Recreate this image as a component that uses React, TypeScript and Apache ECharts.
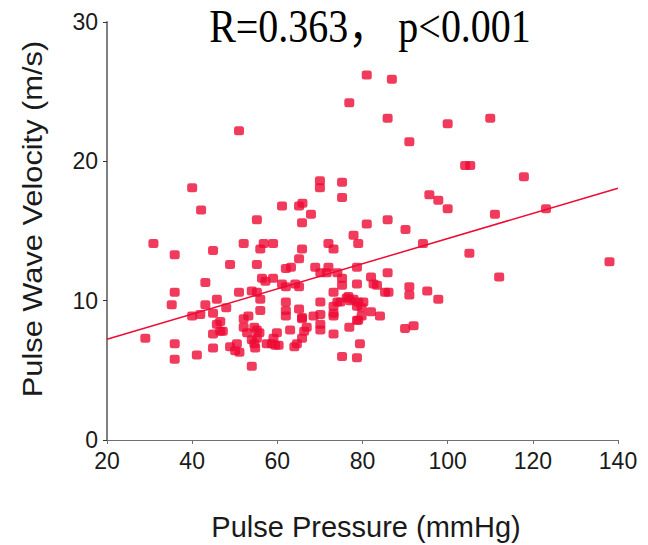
import React, { useEffect, useRef } from "react";
import * as echarts from "echarts";

const xTicks = [20, 40, 60, 80, 100, 120, 140];
const yTicks = [0, 10, 20, 30];

// Pulse Pressure (mmHg)
const pulsePressure = [
  81.0, 86.9, 76.9, 51.0, 85.9, 100.0, 110.0, 91.0, 104.1, 105.3,
  117.9, 95.7, 97.8, 100.0, 123.1, 111.1, 81.0, 85.9, 90.1, 77.9,
  79.0, 94.2, 105.1, 138.0, 40.0, 42.1, 70.0, 70.0, 75.2, 75.2,
  61.1, 65.1, 65.9, 67.9, 65.8, 55.2, 30.9, 35.9, 44.9, 52.1,
  56.0, 56.8, 59.0, 65.8, 72.0, 73.2, 65.1, 48.9, 55.2, 62.0,
  63.2, 68.9, 72.0, 70.1, 71.6, 74.1, 75.2, 75.2, 78.7, 78.7,
  43.1, 56.4, 57.2, 59.0, 61.1, 62.0, 64.2, 65.1, 35.9, 51.0,
  54.0, 55.2, 73.2, 35.2, 43.1, 45.8, 48.0, 56.0, 56.0, 62.0,
  62.0, 62.0, 65.1, 65.8, 70.1, 73.2, 74.1, 76.3, 77.1, 73.2,
  73.2, 78.7, 78.7, 40.0, 41.9, 44.9, 46.6, 45.8, 47.2, 46.6,
  44.9, 52.1, 53.2, 52.1, 52.9, 54.6, 55.2, 55.8, 54.0, 54.6,
  55.2, 59.9, 59.1, 58.7, 59.5, 60.3, 57.5, 63.0, 65.8, 66.9,
  66.3, 65.8, 64.6, 64.0, 68.5, 70.1, 70.1, 70.1, 73.2, 76.9,
  29.0, 35.9, 35.9, 41.1, 44.9, 48.9, 50.5, 51.1, 50.1, 54.8,
  54.0, 75.2, 78.7, 79.4, 112.1, 85.9, 82.0, 82.6, 83.4, 85.3,
  86.1, 91.0, 91.0, 95.2, 97.8, 76.7, 77.9, 79.0, 80.2, 74.8,
  79.8, 82.0, 84.1, 79.8, 79.0, 90.0, 92.0
];

// Pulse Wave Velocity (m/s)
const pulseWaveVelocity = [
  26.2, 25.9, 24.2, 22.2, 23.1, 22.7, 23.1, 21.4, 19.7, 19.7,
  18.9, 17.6, 17.2, 16.6, 16.6, 16.2, 15.5, 15.8, 15.1, 14.7,
  14.1, 14.1, 13.4, 12.8, 18.1, 16.5, 18.6, 18.1, 18.5, 17.4,
  16.8, 16.8, 17.0, 16.2, 15.6, 15.8, 14.1, 13.3, 13.6, 14.1,
  13.7, 14.1, 14.1, 13.7, 14.1, 13.7, 13.0, 12.6, 12.6, 12.3,
  12.4, 12.4, 12.4, 12.0, 12.0, 12.0, 11.6, 11.1, 12.4, 11.2,
  11.3, 11.6, 11.4, 11.6, 11.2, 11.0, 11.2, 11.0, 10.6, 10.6,
  10.7, 10.6, 10.6, 9.7, 9.7, 10.1, 9.5, 10.1, 9.3, 9.9,
  9.3, 8.9, 9.4, 8.8, 9.9, 9.6, 9.9, 10.2, 10.0, 9.1,
  8.9, 9.6, 8.6, 8.9, 9.0, 9.1, 8.5, 8.3, 7.8, 7.8,
  7.6, 8.7, 8.9, 8.1, 7.7, 8.1, 7.9, 7.7, 7.2, 6.9,
  7.3, 7.7, 7.3, 6.9, 6.8, 6.8, 6.9, 7.9, 8.7, 8.1,
  7.8, 7.3, 6.9, 6.7, 8.9, 9.0, 8.3, 7.9, 7.6, 8.1,
  7.3, 6.9, 5.8, 6.1, 6.6, 6.7, 6.9, 6.3, 6.4, 6.6,
  5.3, 6.0, 5.9, 6.9, 11.7, 12.0, 11.7, 11.2, 11.1, 10.6,
  10.6, 11.0, 10.4, 10.7, 10.1, 10.3, 10.1, 9.9, 9.9, 9.9,
  9.5, 9.2, 8.9, 8.9, 8.6, 8.0, 8.2
];

// Regression line end points
const fitX = [20, 140];
const fitY = [7.23, 18.07];

const titleText = "R=0.363， p<0.001";
const xName = "Pulse Pressure (mmHg)";
const yName = "Pulse Wave Velocity (m/s)";

const RED = "#ee0a34";

export default function App() {
  const ref = useRef<HTMLDivElement>(null);
  useEffect(() => {
    if (!ref.current) return;
    const chart = echarts.init(ref.current, null, { renderer: "svg" });
    const points = pulsePressure.map((x, i) => [x, pulseWaveVelocity[i]]);
    const fit = fitX.map((x, i) => [x, fitY[i]]);
    const labelStyle = {
      margin: 9,
      fontSize: 23,
      color: "#1a1a1a",
      fontFamily: "Liberation Sans, Arial, sans-serif",
    };
    chart.setOption({
      animation: false,
      backgroundColor: "#ffffff",
      grid: { left: 107, right: 30, top: 22, bottom: 105 },
      xAxis: {
        type: "value",
        min: xTicks[0],
        max: xTicks[xTicks.length - 1],
        interval: 20,
        axisLine: { lineStyle: { color: "#707070", width: 1.2 } },
        axisTick: { show: true, length: 4, lineStyle: { color: "#707070" } },
        axisLabel: labelStyle,
        splitLine: { show: false },
      },
      yAxis: {
        type: "value",
        min: yTicks[0],
        max: yTicks[yTicks.length - 1],
        interval: 10,
        axisLine: { show: true, lineStyle: { color: "#808080", width: 2 } },
        axisTick: { show: true, length: 4, lineStyle: { color: "#333" } },
        axisLabel: { ...labelStyle, lineHeight: 30, padding: [0, 0, 6, 0] },
        splitLine: { show: false },
      },
      graphic: [
        {
          type: "text",
          x: 370,
          y: 27,
          scaleY: 1.15,
          style: {
            text: titleText,
            fontSize: 40,
            fontFamily: "Liberation Serif, 'Noto Sans CJK SC', serif",
            fill: "#000",
            align: "center",
            verticalAlign: "middle",
          },
        },
        {
          type: "text",
          x: 366,
          y: 527,
          style: {
            text: xName,
            fontSize: 29,
            fontFamily: "Liberation Sans, Arial, sans-serif",
            fill: "#1a1a1a",
            align: "center",
            verticalAlign: "middle",
          },
        },
        {
          type: "text",
          x: 32,
          y: 219,
          rotation: Math.PI / 2,
          scaleX: 1.1,
          style: {
            text: yName,
            fontSize: 28,
            fontFamily: "Liberation Sans, Arial, sans-serif",
            fill: "#1a1a1a",
            align: "center",
            verticalAlign: "middle",
          },
        },
      ],
      series: [
        {
          type: "line",
          data: fit,
          showSymbol: false,
          symbol: "none",
          lineStyle: { color: RED, width: 1.5 },
          z: 1,
        },
        {
          type: "scatter",
          data: points,
          symbol: "roundRect",
          symbolSize: [10, 9],
          itemStyle: { color: RED },
          z: 2,
        },
      ],
    });
    return () => chart.dispose();
  }, []);
  return (
    <div
      ref={ref}
      style={{ position: "fixed", left: 0, top: 0, width: 648, height: 545 }}
    />
  );
}
